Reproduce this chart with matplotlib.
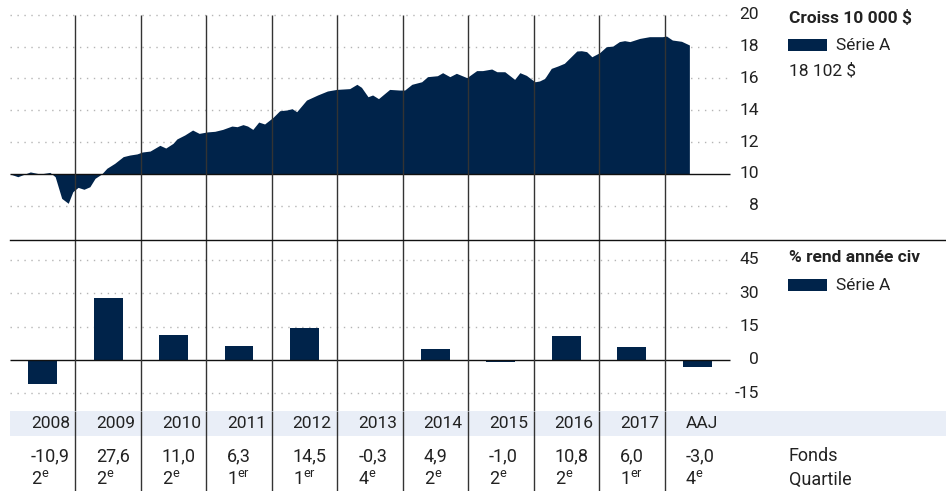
import matplotlib
matplotlib.use('Agg')
import matplotlib.pyplot as plt
from matplotlib.patches import Rectangle
from matplotlib.lines import Line2D

# growth of 10 000 $ (in thousands); t = years since Jan 2008
growth_t = [0.00, 0.12, 0.31, 0.46, 0.61, 0.69, 0.79, 0.89, 0.96, 1.04, 1.13, 1.22, 1.30,
            1.40, 1.48, 1.60, 1.73, 1.83, 1.94, 2.02, 2.14, 2.29, 2.38, 2.49, 2.55, 2.67,
            2.79, 2.89, 3.01, 3.13, 3.25, 3.39, 3.47, 3.56, 3.63, 3.71, 3.80, 3.89, 4.02,
            4.12, 4.23, 4.31, 4.38, 4.53, 4.70, 4.85, 4.99, 5.19, 5.30, 5.37, 5.47, 5.54,
            5.63, 5.80, 5.95, 6.03, 6.14, 6.29, 6.38, 6.53, 6.61, 6.72, 6.82, 6.98, 7.13,
            7.22, 7.36, 7.44, 7.56, 7.71, 7.79, 7.89, 8.02, 8.09, 8.17, 8.27, 8.37, 8.47,
            8.66, 8.73, 8.81, 8.89, 9.01, 9.11, 9.21, 9.31, 9.39, 9.47, 9.62, 9.77, 9.97,
            10.03, 10.12, 10.26, 10.38]
growth_v = [10.00, 9.83, 10.13, 10.00, 10.10, 9.83, 8.47, 8.16, 8.89, 9.16, 9.04, 9.20, 9.73,
            10.00, 10.36, 10.67, 11.09, 11.19, 11.26, 11.38, 11.44, 11.80, 11.63, 11.92, 12.20, 12.45,
            12.76, 12.55, 12.64, 12.68, 12.80, 13.01, 12.97, 13.10, 13.01, 12.80, 13.26, 13.14, 13.56,
            13.97, 14.02, 14.10, 13.91, 14.64, 14.96, 15.21, 15.31, 15.36, 15.63, 15.44, 14.85, 14.96,
            14.73, 15.31, 15.27, 15.27, 15.63, 15.79, 16.11, 16.17, 16.36, 16.11, 16.32, 16.05, 16.49,
            16.49, 16.59, 16.42, 16.42, 15.94, 16.36, 16.19, 15.79, 15.84, 16.00, 16.63, 16.78, 16.95,
            17.72, 17.74, 17.68, 17.36, 17.62, 17.99, 18.03, 18.31, 18.37, 18.31, 18.51, 18.62, 18.62,
            18.66, 18.41, 18.33, 18.10]

periods = ['2008', '2009', '2010', '2011', '2012', '2013', '2014', '2015', '2016', '2017', 'AAJ']
returns = [-10.9, 27.6, 11.0, 6.3, 14.5, -0.3, 4.9, -1.0, 10.8, 6.0, -3.0]
quartiles = ['2e', '2e', '2e', '1er', '1er', '4e', '2e', '2e', '2e', '1er', '4e']

top_ticks = [8, 10, 12, 14, 16, 18, 20]
bot_ticks = [-15, 0, 15, 30, 45]

NAVY = '#00234a'
BAND = '#e9eef7'
GRID = '#b5b5b5'
VLINE = '#333333'
TXT = '#222222'
FONT = ['Roboto', 'DejaVu Sans']
FS = 12.5

plt.rcParams['font.family'] = FONT
plt.rcParams['mathtext.fontset'] = 'custom'
plt.rcParams['mathtext.rm'] = FONT[0]

W, H = 946, 491
fig = plt.figure(figsize=(W / 100, H / 100), dpi=100)

def rect(x0, y0, x1, y1):
    # pixel box (top-left origin) -> figure rect
    return [x0 / W, 1 - y1 / H, (x1 - x0) / W, (y1 - y0) / H]

def ftext(x, y, s, **kw):
    kw.setdefault('fontsize', FS)
    kw.setdefault('color', TXT)
    kw.setdefault('va', 'center')
    fig.text(x / W, 1 - y / H, s, **kw)

COLW = 65.45
XMAX = (W - 10) / COLW
n = len(periods)

ax_top = fig.add_axes(rect(10, 0, W, 240))
ax_bot = fig.add_axes(rect(10, 240, W, 411))
ax_tab = fig.add_axes(rect(10, 411, W, H))
for ax in (ax_top, ax_bot, ax_tab):
    ax.set_xlim(0, XMAX)
    ax.axis('off')

# top: growth area
ax_top.set_ylim(10 - 66 / 15.93, 10 + 174 / 15.93)
for v in top_ticks:
    if v != 10:
        ax_top.hlines(v, 0, n, colors=GRID, linestyles=(0, (1, 4)), lw=1)
ax_top.fill_between(growth_t, 10, growth_v, color=NAVY, lw=0, zorder=2)
ax_top.hlines(10, 0, n, colors='#111111', lw=1, zorder=3)
for k in range(1, n):
    ax_top.vlines(k, ax_top.get_ylim()[0], 20, colors=VLINE, lw=1, zorder=4)
for v in top_ticks:
    ax_top.text((759 - 10) / COLW, v, str(v), ha='right', va='center', fontsize=FS, color=TXT)

# bottom: calendar returns
ax_bot.set_ylim(-(411 - 360) / 2.233, (360 - 240) / 2.233)
for v in bot_ticks:
    if v != 0:
        ax_bot.hlines(v, 0, n, colors=GRID, linestyles=(0, (1, 4)), lw=1)
xs = [i + 0.5 for i in range(n)]
ax_bot.bar(xs, returns, width=0.44, color=NAVY, zorder=2)
ax_bot.hlines(0, 0, n, colors='#111111', lw=1, zorder=3)
ylo, yhi = ax_bot.get_ylim()
for k in range(1, n):
    ax_bot.vlines(k, ylo, yhi, colors=VLINE, lw=1, zorder=4)
for v in bot_ticks:
    ax_bot.text((759 - 10) / COLW, v, str(v), ha='right', va='center', fontsize=FS, color=TXT)

# table
ax_tab.set_ylim(80, 0)
ax_tab.add_patch(Rectangle((0, 0), XMAX, 25, color=BAND, lw=0, zorder=0))
for k in range(1, n):
    ax_tab.vlines(k, 0, 80, colors=VLINE, lw=1, zorder=4)
for i in range(n):
    x0 = i + 0.32
    ax_tab.text(x0, 13, periods[i], ha='left', va='center', fontsize=FS, color=TXT)
    ax_tab.text(x0, 45, f'{returns[i]:.1f}'.replace('.', ','), ha='left', va='center',
                fontsize=FS + 0.5, color=TXT)
    q = quartiles[i]
    ax_tab.text(x0, 68, q[0] + r'$^{\mathrm{' + q[1:] + '}}$', ha='left', va='center',
                fontsize=FS + 0.5, color=TXT)
ax_tab.text((789 - 10) / COLW, 45, 'Fonds', ha='left', va='center', fontsize=FS + 0.5, color=TXT)
ax_tab.text((789 - 10) / COLW, 69, 'Quartile', ha='left', va='center', fontsize=FS + 0.5, color=TXT)

# divider
fig.add_artist(Line2D([10 / W, 1], [1 - 240 / H, 1 - 240 / H], color='#111111', lw=1))

# legends
ftext(789, 18, 'Croiss 10 000 $', fontweight='bold')
fig.add_artist(Rectangle((788 / W, 1 - 51 / H), 39 / W, 12 / H, color=NAVY, lw=0,
                         transform=fig.transFigure))
ftext(836, 45, 'Série A')
ftext(789, 71, '18 102 $')

ftext(789, 258, '% rend année civ', fontweight='bold')
fig.add_artist(Rectangle((788 / W, 1 - 291 / H), 39 / W, 12 / H, color=NAVY, lw=0,
                         transform=fig.transFigure))
ftext(836, 285, 'Série A')

fig.savefig('out.png', dpi=100)
